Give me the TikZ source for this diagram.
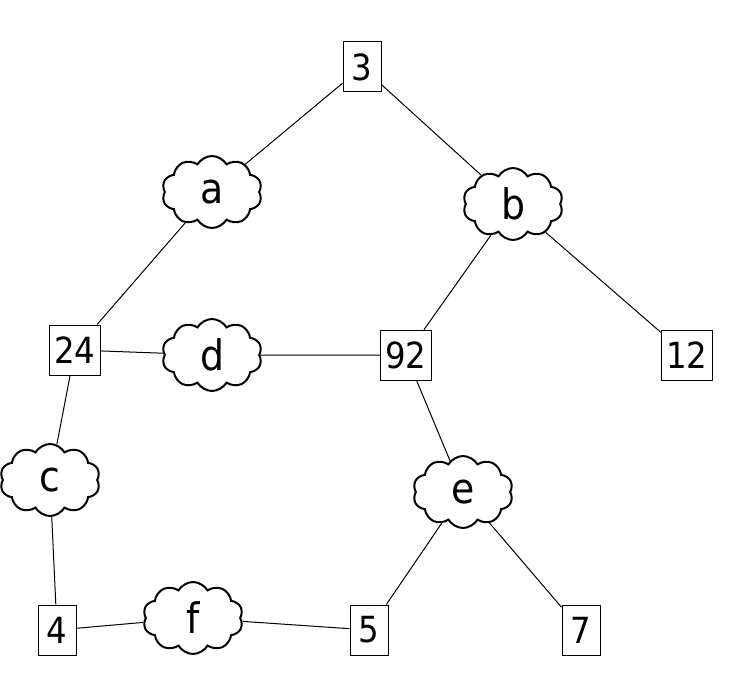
\documentclass[tikz,border=0pt]{standalone}
\usepackage{fontspec}
\setmainfont{DejaVu Sans Condensed}
\usetikzlibrary{positioning,shapes.symbols}

\begin{document}
\begin{tikzpicture}[x=1pt,y=-1pt,line width=1pt,
                       num node/.style={rectangle,draw,fill=white,inner sep=5pt,
                                        minimum width=38pt,minimum height=50pt,
                                        font=\fontsize{36}{42}\selectfont},
                       cloud node/.style={cloud,draw,line width=2pt,fill=white,
                                          cloud puffs=10,cloud puff arc=120,cloud ignores aspect,
                                          inner sep=0pt,minimum width=100pt,minimum height=72pt,
                                          font=\fontsize{42}{48}\selectfont}
                           ]
   \useasboundingbox (0,0) rectangle (731,682);
   \node[num node] (n3) at (362,67) {3};
   \node[cloud node] (a) at (212,192) {a};
   \node[cloud node] (b) at (513,204) {b};
   \node[num node] (n24) at (75,350) {24};
   \node[cloud node] (d) at (212,355) {d};
   \node[num node] (n92) at (406,355) {92};
   \node[num node] (n12) at (687,355) {12};
   \node[cloud node] (c) at (50,480) {c};
   \node[cloud node] (e) at (463,492) {e};
   \node[num node] (n4) at (57,630) {4};
   \node[cloud node] (f) at (193,618) {f};
   \node[num node] (n5) at (369,630) {5};
   \node[num node] (n7) at (581,630) {7};
      \path%
    (n3) edge (a)
    (n3) edge (b)
    (a) edge (n24)
    (b) edge (n92)
    (b) edge (n12)
    (n24) edge (d)
    (d) edge (n92)
    (n24) edge (c)
    (c) edge (n4)
    (n92) edge (e)
    (e) edge (n5)
    (e) edge (n7)
    (n4) edge (f)
    (f) edge (n5);
      \end{tikzpicture}
\end{document}
